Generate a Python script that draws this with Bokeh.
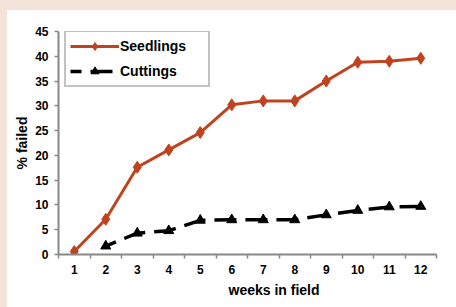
from bokeh.plotting import figure
from bokeh.models import (Range1d, FixedTicker, Legend, LegendItem, Title,
                          ColumnDataSource)
from bokeh.embed import file_html
from bokeh.resources import INLINE

# ---- data ----
weeks = [1, 2, 3, 4, 5, 6, 7, 8, 9, 10, 11, 12]
seedlings = [0.6, 7.1, 17.6, 21.1, 24.6, 30.2, 31.0, 31.0, 35.0, 38.8, 39.0, 39.6]
cuttings = [float("nan"), 1.7, 4.3, 4.8, 6.9, 7.0, 7.0, 7.0, 8.0, 8.9, 9.6, 9.7]
y_ticks = [0, 5, 10, 15, 20, 25, 30, 35, 40, 45]
series_names = ["Seedlings", "Cuttings"]
x_label = "weeks in field"
y_label = "% failed"

RED = "#c0431f"
GRAY = "#878787"
PEACH = "#f3e3d9"
FONT = "Liberation Sans"

p = figure(width=449, height=297, output_backend="svg", toolbar_location=None,
           x_range=Range1d(0.5, 12.5), y_range=Range1d(0, 45),
           min_border_left=51, min_border_right=20, min_border_top=21,
           min_border_bottom=53)
p.margin = (10, 0, 0, 7)
p.styles = {"outline": "12px solid " + PEACH}
p.outline_line_color = None
p.background_fill_color = "white"
p.border_fill_color = "white"
p.xgrid.visible = False
p.ygrid.visible = False

src = ColumnDataSource(dict(x=weeks, s=seedlings, c=cuttings))

r1 = p.line("x", "s", source=src, line_color=RED, line_width=3)
m1 = p.scatter("x", "s", source=src, marker="diamond", size=12,
               fill_color=RED, line_color=RED)
r2 = p.line("x", "c", source=src, line_color="black", line_width=3.5,
            line_dash="22 9", line_dash_offset=11)
m2 = p.scatter("x", "c", source=src, marker="triangle", size=10,
               fill_color="black", line_color="black")

# axes
xa = p.xaxis[0]
xa.ticker = FixedTicker(ticks=weeks, minor_ticks=[w - 0.5 for w in weeks] + [12.5])
xa.major_tick_line_color = None
xa.major_tick_out = 4
xa.major_tick_in = 0
xa.minor_tick_line_color = GRAY
xa.minor_tick_out = 4
xa.minor_tick_in = 0
xa.minor_tick_line_width = 1.5
xa.axis_line_color = GRAY
xa.axis_line_width = 2
xa.major_label_standoff = 6
xa.major_label_text_font = FONT
xa.major_label_text_font_style = "bold"
xa.major_label_text_font_size = "12px"
xa.major_label_text_color = "black"

ya = p.yaxis[0]
ya.ticker = FixedTicker(ticks=y_ticks, minor_ticks=[])
ya.major_tick_line_color = GRAY
ya.major_tick_line_width = 1.5
ya.major_tick_out = 4
ya.major_tick_in = 0
ya.minor_tick_line_color = None
ya.axis_line_color = GRAY
ya.axis_line_width = 2
ya.major_label_standoff = 6
ya.major_label_text_font = FONT
ya.major_label_text_font_style = "bold"
ya.major_label_text_font_size = "12px"
ya.major_label_text_color = "black"
ya.axis_label = y_label
ya.axis_label_text_font = FONT
ya.axis_label_text_font_style = "bold"
ya.axis_label_text_font_size = "14px"
ya.axis_label_text_color = "black"
ya.axis_label_standoff = 2

p.add_layout(Title(text=x_label, align="left", offset=170, standoff=7,
                   text_font=FONT, text_font_style="bold",
                   text_font_size="14px", text_color="black"), "below")

legend = Legend(items=[LegendItem(label=series_names[0], renderers=[r1, m1]),
                       LegendItem(label=series_names[1], renderers=[r2, m2])],
                location=(6, 167))
legend.glyph_width = 49
legend.glyph_height = 20
legend.label_standoff = 1
legend.label_width = 84
legend.spacing = 5
legend.padding = 4
legend.margin = 0
legend.border_line_color = GRAY
legend.border_line_width = 2
legend.background_fill_alpha = 1
legend.label_text_font = FONT
legend.label_text_font_style = "bold"
legend.label_text_font_size = "14px"
legend.label_text_color = "black"
p.add_layout(legend)

open("out.html", "w").write(file_html(p, INLINE))
